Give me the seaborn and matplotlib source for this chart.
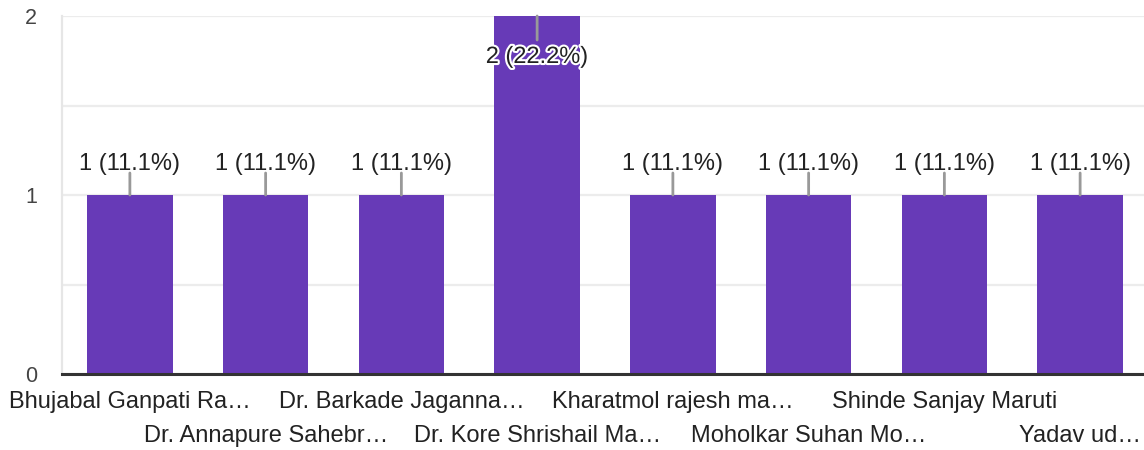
import matplotlib
matplotlib.use('Agg')
import matplotlib.pyplot as plt
import matplotlib.patheffects as pe
import pandas as pd
import seaborn as sns

# ---------------- data ----------------
names = ['Bhujabal Ganpati Ra…', 'Dr. Annapure Sahebr…', 'Dr. Barkade Jaganna…',
         'Dr. Kore Shrishail Ma…', 'Kharatmol rajesh ma…', 'Moholkar Suhan Mo…',
         'Shinde Sanjay Maruti', 'Yadav ud…']
counts = [1, 1, 1, 2, 1, 1, 1, 1]
total = 9
y_ticks = [0, 1, 2]

df = pd.DataFrame({'name': names, 'count': counts})

sns.set_theme(style='white')
plt.rcParams['font.family'] = ['Liberation Sans', 'DejaVu Sans']

PURPLE = '#673ab7'
fig = plt.figure(figsize=(11.44, 4.5), dpi=100)
ax = fig.add_axes([62 / 1144, 76 / 450, 1086 / 1144, 358 / 450])

sns.barplot(data=df, x='name', y='count', color=PURPLE, width=0.63,
            saturation=1, linewidth=0, ax=ax, zorder=3)

ax.set_xlim(-0.5, len(names) - 0.5)
ax.set_ylim(0, 2)
ax.set_yticks(y_ticks)
ax.set_yticks([0.5, 1.5], minor=True)
ax.grid(axis='y', which='both', color='#ececec', linewidth=1.6, zorder=0)
ax.grid(axis='x', visible=False)

for side in ['top', 'right']:
    ax.spines[side].set_visible(False)
ax.spines['left'].set_color('#e6e6e6')
ax.spines['left'].set_linewidth(1.6)
ax.spines['bottom'].set_color('#333333')
ax.spines['bottom'].set_linewidth(2.2)
ax.spines['bottom'].set_zorder(5)

# alternating two-row category labels (odd ticks pushed down a row)
ax.set_xticks(range(len(names)))
ax.set_xticklabels(names, fontsize=17, color='#222222')
ax.tick_params(axis='x', length=0, pad=12)
for i, tick in enumerate(ax.xaxis.get_major_ticks()):
    if i % 2 == 1:
        tick.set_pad(36.5)
ax.tick_params(axis='y', which='both', length=0, pad=18, labelsize=15.5,
               labelcolor='#444444')
ax.set_xlabel('')
ax.set_ylabel('')

# value labels with leader lines
for i, v in enumerate(counts):
    lab = f'{v} ({v / total * 100:.1f}%)'
    if v == max(counts):
        ax.annotate('', xy=(i, v), xytext=(0, -24), textcoords='offset pixels',
                    arrowprops=dict(arrowstyle='-', color='#999999', lw=2,
                                    shrinkA=0, shrinkB=0), zorder=6)
        ax.annotate(lab, xy=(i, v), xytext=(0, -47), textcoords='offset pixels',
                    ha='center', va='baseline', fontsize=17, color='#222222',
                    path_effects=[pe.withStroke(linewidth=3, foreground='white')],
                    zorder=7)
    else:
        ax.annotate('', xy=(i, v), xytext=(0, 22), textcoords='offset pixels',
                    arrowprops=dict(arrowstyle='-', color='#999999', lw=2,
                                    shrinkA=0, shrinkB=0), zorder=6)
        ax.annotate(lab, xy=(i, v), xytext=(0, 25), textcoords='offset pixels',
                    ha='center', va='baseline', fontsize=17, color='#222222',
                    zorder=7)

fig.savefig('out.png', dpi=100)
